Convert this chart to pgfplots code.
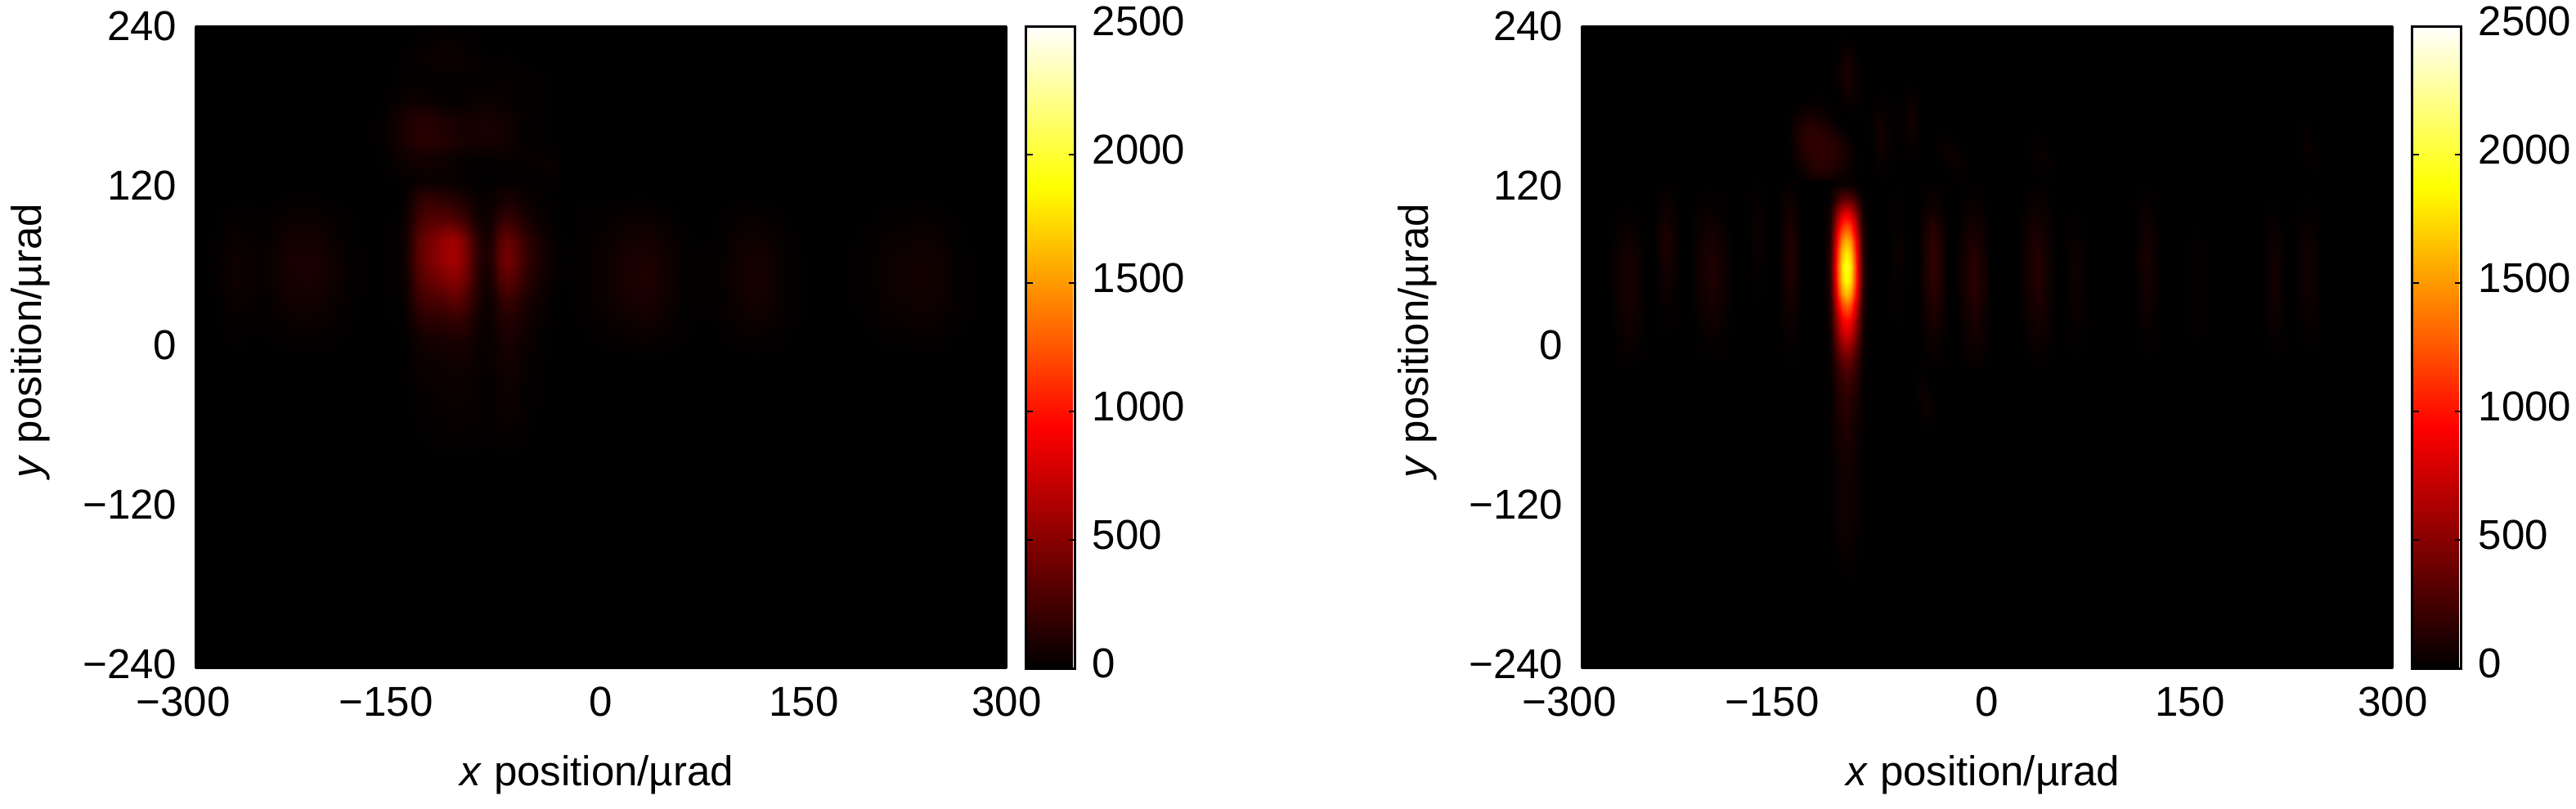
\documentclass[border=0pt]{standalone}
\usepackage{fontspec}
\setmainfont{Liberation Sans}
\usepackage{pgfplots}
\pgfplotsset{compat=1.18}
\newcommand\band[6]{\addplot3[surf,shader=interp,mesh/cols=#3,forget plot] table[row sep=crcr,header=false,x expr={#1+#2*mod(\coordindex,#3)},y expr={#4-#5*floor(\coordindex/#3)},z index=0]{#6};}
\pgfplotsset{panel/.style={
  scale only axis,width=248pt,height=196.25pt,
  anchor=south west,view={0}{90},
  xmin=-300,xmax=300,ymin=-240,ymax=240,zmin=0,zmax=2500,
  point meta min=0,point meta max=2500,
  colormap={hotmap}{rgb255(0cm)=(0,0,0); rgb255(3cm)=(255,0,0); rgb255(6cm)=(255,255,0); rgb255(8cm)=(255,255,255)},
  font=\fontsize{12.75pt}{15pt}\selectfont,
  xtick={-300,-150,0,150,300},
  xticklabels={\llap{−}300,\llap{−}150,0,150,300},
  ytick={-240,-120,0,120,240},
  yticklabels={\raisebox{2.5pt}{−240},\raisebox{1.9pt}{−120},\raisebox{1.3pt}{0},\raisebox{0.7pt}{120},240},
  tick style={draw=none},major tick length=0pt,
  x tick label style={anchor=north,inner sep=0pt,yshift=-5.5pt},
  y tick label style={anchor=east,inner sep=0pt,xshift=-5.5pt},
  xlabel={\textit{x} position/µrad},
  ylabel={\textit{y} position/µrad},
  xlabel style={at={(axis description cs:0.495,0)},anchor=base,yshift=-35.75pt},
  ylabel style={at={(axis description cs:0,0.51)},anchor=base,yshift=47pt},
  colorbar,
  colorbar style={
    at={(1.0242,1)},anchor=north west,width=15pt,
    ytick={0,500,1000,1500,2000,2500},
    yticklabels={0,500,1000,1500,2000,2500},
    tick align=inside,major tick length=2pt,
    ytick style={draw=black,line width=0.7pt},
    axis line style={line width=0.75pt},
    y tick label style={font=\fontsize{12.75pt}{15pt}\selectfont,anchor=west,inner sep=0pt,xshift=5pt,yshift=1.5pt},
  },
}}
\begin{document}
\begin{tikzpicture}
\path[use as bounding box] (0,0) rectangle (787.5pt,247pt);
\begin{axis}[panel,at={(59.75pt,42.75pt)}]
\band{-300}{600}{2}{240}{480}{0\\0\\0\\0\\}
% main lobes
\band{-150}{5}{25}{125}{15}{
0\\5\\15\\25\\30\\30\\25\\20\\20\\15\\10\\5\\5\\5\\5\\10\\15\\10\\10\\5\\5\\10\\15\\10\\0\\
5\\20\\80\\160\\190\\190\\170\\160\\140\\120\\90\\60\\35\\25\\35\\70\\90\\80\\60\\45\\30\\20\\12\\5\\0\\
10\\40\\130\\230\\280\\300\\310\\320\\300\\260\\200\\120\\65\\40\\80\\160\\200\\175\\130\\95\\65\\40\\25\\10\\0\\
18\\55\\180\\320\\395\\450\\510\\565\\590\\540\\420\\255\\135\\80\\145\\300\\375\\330\\245\\180\\125\\80\\50\\25\\5\\
20\\58\\190\\335\\410\\465\\520\\570\\600\\560\\440\\265\\145\\85\\165\\340\\430\\375\\275\\200\\140\\90\\55\\30\\5\\
16\\48\\160\\280\\340\\385\\420\\460\\490\\460\\370\\225\\120\\70\\125\\260\\330\\290\\215\\155\\105\\70\\42\\25\\5\\
12\\35\\120\\210\\250\\265\\280\\300\\330\\320\\260\\160\\85\\50\\80\\160\\200\\180\\135\\95\\65\\42\\25\\10\\0\\
8\\20\\70\\120\\150\\150\\150\\165\\180\\180\\150\\95\\50\\30\\50\\100\\125\\115\\85\\60\\40\\25\\15\\5\\0\\
4\\10\\35\\60\\75\\75\\75\\85\\95\\95\\85\\60\\35\\25\\35\\70\\90\\80\\60\\40\\28\\15\\10\\5\\0\\
0\\5\\20\\35\\40\\40\\45\\50\\55\\55\\50\\40\\25\\20\\30\\55\\65\\55\\40\\28\\20\\10\\5\\0\\0\\
0\\5\\15\\25\\30\\30\\35\\38\\40\\40\\38\\30\\20\\15\\25\\42\\52\\45\\32\\20\\12\\8\\5\\0\\0\\
0\\0\\10\\15\\20\\22\\25\\28\\32\\32\\30\\25\\18\\12\\22\\35\\42\\38\\25\\15\\10\\5\\0\\0\\0\\
0\\0\\5\\10\\12\\15\\18\\22\\25\\28\\25\\22\\15\\12\\18\\28\\32\\28\\20\\12\\8\\0\\0\\0\\0\\
0\\0\\0\\5\\8\\10\\12\\12\\15\\15\\15\\12\\10\\8\\10\\15\\18\\15\\10\\8\\0\\0\\0\\0\\0\\
0\\0\\0\\0\\0\\0\\0\\0\\0\\0\\0\\0\\0\\0\\0\\0\\0\\0\\0\\0\\0\\0\\0\\0\\0\\
}
% upper blob
\band{-170}{10}{15}{245}{15}{
0\\0\\0\\0\\0\\0\\0\\0\\0\\0\\0\\0\\0\\0\\0\\
0\\0\\0\\5\\15\\25\\25\\15\\5\\0\\0\\0\\0\\0\\0\\
0\\0\\5\\15\\30\\45\\45\\30\\15\\5\\10\\5\\0\\0\\0\\
0\\0\\10\\15\\15\\15\\15\\15\\15\\15\\25\\15\\15\\10\\0\\
0\\5\\20\\45\\40\\15\\10\\20\\30\\30\\25\\15\\20\\10\\0\\
5\\15\\70\\125\\135\\115\\90\\70\\80\\80\\60\\25\\10\\5\\0\\
5\\20\\75\\130\\145\\130\\105\\75\\85\\85\\60\\25\\10\\10\\0\\
0\\10\\35\\60\\70\\55\\30\\15\\10\\15\\15\\15\\25\\35\\10\\
0\\5\\15\\25\\30\\25\\20\\15\\5\\5\\5\\10\\10\\20\\10\\
}
% left faint lobes
\band{-300}{10}{16}{125}{15}{
0\\0\\0\\0\\0\\0\\0\\0\\0\\0\\0\\0\\0\\0\\0\\0\\
0\\0\\0\\5\\5\\0\\5\\10\\10\\10\\5\\5\\0\\0\\0\\5\\
0\\0\\10\\20\\15\\10\\25\\40\\45\\40\\25\\15\\5\\0\\5\\10\\
0\\5\\15\\35\\25\\15\\40\\65\\70\\65\\45\\20\\5\\5\\5\\18\\
0\\5\\25\\50\\35\\20\\55\\85\\95\\85\\60\\30\\10\\5\\5\\20\\
0\\5\\25\\50\\35\\20\\50\\80\\90\\80\\55\\30\\10\\5\\5\\16\\
0\\0\\15\\35\\25\\15\\40\\60\\65\\60\\40\\20\\5\\5\\5\\12\\
0\\0\\10\\20\\15\\10\\20\\35\\40\\35\\25\\10\\5\\0\\5\\8\\
0\\0\\5\\10\\5\\5\\10\\15\\15\\15\\10\\5\\0\\0\\0\\4\\
0\\0\\0\\0\\0\\0\\0\\0\\0\\0\\0\\0\\0\\0\\0\\0\\
}
% right faint lobes
\band{-30}{10}{34}{125}{15}{
0\\0\\0\\0\\0\\0\\0\\0\\0\\0\\0\\0\\0\\0\\0\\0\\0\\0\\0\\0\\0\\0\\0\\0\\0\\0\\0\\0\\0\\0\\0\\0\\0\\0\\
0\\5\\5\\5\\5\\5\\10\\5\\5\\0\\0\\0\\0\\5\\5\\5\\5\\0\\0\\0\\0\\0\\0\\0\\5\\5\\5\\5\\5\\0\\0\\0\\0\\0\\
0\\5\\10\\15\\25\\35\\40\\30\\20\\5\\5\\5\\10\\20\\30\\25\\15\\5\\0\\0\\0\\0\\5\\5\\15\\15\\20\\25\\20\\10\\5\\0\\0\\0\\
5\\5\\20\\30\\45\\65\\75\\65\\40\\15\\5\\5\\15\\40\\55\\50\\30\\10\\5\\5\\5\\5\\5\\15\\30\\35\\40\\50\\40\\15\\5\\5\\0\\0\\
5\\10\\25\\40\\60\\90\\105\\85\\50\\20\\10\\10\\25\\50\\75\\70\\40\\15\\5\\5\\5\\5\\10\\20\\45\\50\\55\\65\\50\\25\\10\\5\\0\\0\\
5\\10\\25\\40\\65\\95\\110\\90\\55\\20\\10\\10\\25\\55\\80\\75\\40\\15\\5\\5\\5\\5\\10\\20\\45\\50\\60\\70\\55\\25\\10\\5\\0\\0\\
5\\10\\20\\35\\55\\80\\95\\75\\45\\15\\10\\10\\20\\45\\70\\65\\35\\15\\5\\5\\5\\5\\10\\15\\40\\45\\50\\60\\45\\20\\10\\5\\0\\0\\
5\\5\\15\\20\\35\\50\\60\\50\\30\\10\\5\\5\\15\\30\\45\\40\\20\\10\\5\\5\\5\\5\\5\\10\\25\\25\\35\\40\\30\\15\\5\\5\\0\\0\\
0\\5\\5\\10\\15\\20\\25\\20\\15\\5\\5\\5\\5\\15\\20\\15\\10\\5\\0\\0\\0\\0\\5\\5\\10\\10\\15\\15\\15\\5\\5\\0\\0\\0\\
0\\0\\0\\0\\0\\0\\0\\0\\0\\0\\0\\0\\0\\0\\0\\0\\0\\0\\0\\0\\0\\0\\0\\0\\0\\0\\0\\0\\0\\0\\0\\0\\0\\0\\
}
\end{axis}
\begin{axis}[panel,at={(483.5pt,42.75pt)}]
\band{-300}{600}{2}{240}{480}{0\\0\\0\\0\\}
% central peak
\band{-122}{3}{13}{130}{10}{
0\\0\\0\\0\\0\\0\\0\\0\\0\\0\\0\\0\\0\\
0\\1\\5\\22\\41\\55\\60\\55\\40\\22\\5\\1\\0\\
0\\8\\34\\137\\258\\350\\380\\350\\251\\137\\34\\8\\0\\
0\\17\\77\\306\\578\\782\\850\\782\\561\\306\\77\\17\\0\\
0\\24\\110\\439\\830\\1122\\1220\\1122\\805\\439\\110\\24\\0\\
0\\32\\142\\569\\1074\\1454\\1580\\1454\\1043\\569\\142\\32\\0\\
0\\36\\163\\652\\1231\\1665\\1810\\1665\\1195\\652\\163\\36\\0\\
0\\39\\175\\698\\1319\\1785\\1940\\1785\\1280\\698\\175\\39\\0\\
0\\38\\170\\680\\1285\\1739\\1890\\1739\\1247\\680\\170\\38\\0\\
0\\33\\149\\594\\1122\\1518\\1650\\1518\\1089\\594\\149\\33\\0\\
0\\26\\115\\461\\870\\1178\\1280\\1178\\845\\461\\115\\26\\0\\
0\\19\\87\\349\\660\\892\\970\\892\\640\\349\\87\\19\\0\\
0\\16\\70\\281\\530\\718\\780\\718\\515\\281\\70\\16\\0\\
0\\11\\50\\198\\374\\506\\550\\506\\363\\198\\50\\11\\0\\
0\\7\\33\\133\\252\\340\\370\\340\\244\\133\\33\\7\\0\\
0\\5\\23\\94\\177\\239\\260\\239\\172\\94\\23\\5\\0\\
}
% tail of the peak
\band{-122}{6}{7}{-20}{20}{
0\\23\\177\\260\\172\\23\\0\\
0\\16\\115\\160\\95\\15\\0\\
0\\12\\85\\115\\65\\10\\0\\
0\\10\\60\\80\\45\\8\\0\\
0\\8\\45\\60\\35\\5\\0\\
0\\8\\45\\60\\35\\5\\0\\
0\\5\\35\\50\\25\\5\\0\\
0\\0\\15\\20\\10\\0\\0\\
0\\0\\0\\0\\0\\0\\0\\
}
% upper blob and streaks
\band{-152}{6}{18}{235}{10}{
0\\0\\0\\0\\0\\0\\0\\0\\5\\0\\0\\0\\0\\0\\0\\0\\0\\0\\
0\\0\\0\\0\\0\\0\\0\\10\\30\\10\\0\\0\\0\\0\\0\\0\\0\\0\\
0\\0\\0\\0\\0\\0\\0\\20\\85\\30\\0\\0\\0\\0\\0\\0\\0\\0\\
0\\0\\0\\0\\0\\0\\5\\30\\95\\35\\5\\0\\0\\0\\0\\0\\0\\0\\
0\\0\\0\\0\\0\\5\\5\\25\\80\\40\\5\\0\\5\\5\\0\\0\\10\\0\\
0\\0\\0\\5\\10\\10\\5\\5\\35\\25\\5\\0\\10\\10\\5\\10\\35\\10\\
0\\5\\30\\60\\60\\40\\15\\5\\5\\10\\5\\5\\40\\25\\5\\15\\55\\15\\
0\\20\\85\\135\\140\\110\\70\\25\\5\\0\\5\\10\\65\\35\\5\\15\\55\\15\\
0\\25\\105\\160\\170\\165\\140\\100\\45\\5\\0\\10\\70\\35\\5\\10\\35\\10\\
0\\15\\80\\135\\165\\170\\155\\125\\75\\20\\0\\5\\50\\25\\5\\5\\15\\5\\
0\\5\\40\\90\\130\\145\\130\\95\\50\\15\\0\\0\\20\\10\\0\\0\\5\\0\\
0\\0\\10\\30\\55\\60\\50\\30\\15\\5\\0\\0\\5\\5\\0\\0\\0\\0\\
}
% stripes
\band{-280}{7}{5}{125}{20}{0\\0\\0\\0\\0\\ 0\\5\\9\\5\\0\\ 0\\27\\45\\27\\0\\ 0\\51\\85\\51\\0\\ 0\\54\\90\\54\\0\\ 0\\43\\72\\43\\0\\ 0\\24\\40\\24\\0\\ 0\\5\\9\\5\\0\\}
\band{-247}{5}{5}{125}{20}{0\\3\\5\\3\\0\\ 0\\30\\50\\30\\0\\ 0\\60\\100\\60\\0\\ 0\\54\\90\\54\\0\\ 0\\30\\50\\30\\0\\ 0\\12\\20\\12\\0\\ 0\\3\\5\\3\\0\\ 0\\0\\0\\0\\0\\}
\band{-220}{8}{5}{125}{20}{0\\0\\0\\0\\0\\ 0\\13\\22\\13\\0\\ 0\\46\\77\\46\\0\\ 0\\66\\110\\66\\0\\ 0\\63\\105\\63\\0\\ 0\\40\\66\\40\\0\\ 0\\17\\28\\17\\0\\ 0\\0\\0\\0\\0\\}
\band{-178}{4}{5}{125}{20}{0\\5\\8\\5\\0\\ 0\\17\\28\\17\\0\\ 0\\24\\40\\24\\0\\ 0\\17\\28\\17\\0\\ 0\\7\\12\\7\\0\\ 0\\2\\4\\2\\0\\ 0\\0\\0\\0\\0\\ 0\\0\\0\\0\\0\\}
\band{-155}{4.5}{5}{125}{20}{0\\7\\12\\7\\0\\ 0\\37\\62\\37\\0\\ 0\\67\\112\\67\\0\\ 0\\75\\125\\75\\0\\ 0\\60\\100\\60\\0\\ 0\\34\\56\\34\\0\\ 0\\15\\25\\15\\0\\ 0\\4\\6\\4\\0\\}
\band{-74}{4}{5}{125}{20}{0\\2\\3\\2\\0\\ 0\\11\\18\\11\\0\\ 0\\19\\32\\19\\0\\ 0\\21\\35\\21\\0\\ 0\\15\\25\\15\\0\\ 0\\6\\10\\6\\0\\ 0\\2\\3\\2\\0\\ 0\\0\\0\\0\\0\\}
\band{-51}{5.5}{5}{125}{20}{0\\11\\18\\11\\0\\ 0\\33\\55\\33\\0\\ 0\\94\\157\\94\\0\\ 0\\111\\185\\111\\0\\ 0\\94\\157\\94\\0\\ 0\\61\\102\\61\\0\\ 0\\28\\46\\28\\0\\ 0\\11\\18\\11\\0\\}
\band{-23}{6.5}{5}{125}{20}{0\\5\\8\\5\\0\\ 0\\23\\38\\23\\0\\ 0\\54\\90\\54\\0\\ 0\\85\\142\\85\\0\\ 0\\90\\150\\90\\0\\ 0\\63\\105\\63\\0\\ 0\\36\\60\\36\\0\\ 0\\13\\22\\13\\0\\}
\band{23}{7}{5}{125}{20}{0\\4\\6\\4\\0\\ 0\\26\\44\\26\\0\\ 0\\60\\100\\60\\0\\ 0\\75\\125\\75\\0\\ 0\\71\\119\\71\\0\\ 0\\53\\88\\53\\0\\ 0\\26\\44\\26\\0\\ 0\\4\\6\\4\\0\\}
\band{55}{5}{5}{125}{20}{0\\0\\0\\0\\0\\ 0\\3\\5\\3\\0\\ 0\\15\\25\\15\\0\\ 0\\30\\50\\30\\0\\ 0\\30\\50\\30\\0\\ 0\\21\\35\\21\\0\\ 0\\9\\15\\9\\0\\ 0\\0\\0\\0\\0\\}
\band{108}{5}{5}{125}{20}{0\\2\\4\\2\\0\\ 0\\19\\32\\19\\0\\ 0\\43\\72\\43\\0\\ 0\\54\\90\\54\\0\\ 0\\46\\76\\46\\0\\ 0\\27\\45\\27\\0\\ 0\\11\\18\\11\\0\\ 0\\0\\0\\0\\0\\}
\band{144}{5}{5}{125}{20}{0\\0\\0\\0\\0\\ 0\\0\\0\\0\\0\\ 0\\5\\9\\5\\0\\ 0\\14\\24\\14\\0\\ 0\\18\\30\\18\\0\\ 0\\13\\21\\13\\0\\ 0\\4\\6\\4\\0\\ 0\\0\\0\\0\\0\\}
\band{203}{4.5}{5}{125}{20}{0\\0\\0\\0\\0\\ 0\\6\\10\\6\\0\\ 0\\25\\42\\25\\0\\ 0\\40\\66\\40\\0\\ 0\\42\\70\\42\\0\\ 0\\29\\49\\29\\0\\ 0\\13\\21\\13\\0\\ 0\\0\\0\\0\\0\\}
\band{225}{6}{5}{125}{20}{0\\0\\0\\0\\0\\ 0\\7\\12\\7\\0\\ 0\\25\\42\\25\\0\\ 0\\36\\60\\36\\0\\ 0\\32\\54\\32\\0\\ 0\\22\\36\\22\\0\\ 0\\7\\12\\7\\0\\ 0\\0\\0\\0\\0\\}
% faint patches
\band{28}{12}{3}{165}{22}{0\\0\\0\\ 0\\35\\0\\ 0\\0\\0\\}
\band{227}{10}{3}{172}{22}{0\\0\\0\\ 0\\35\\0\\ 0\\0\\0\\}
\band{-42}{16}{3}{165}{22}{0\\0\\0\\ 0\\40\\0\\ 0\\0\\0\\}
\band{-55}{9}{3}{-15}{25}{0\\0\\0\\ 0\\50\\0\\ 0\\0\\0\\}
\end{axis}
\end{tikzpicture}
\end{document}
